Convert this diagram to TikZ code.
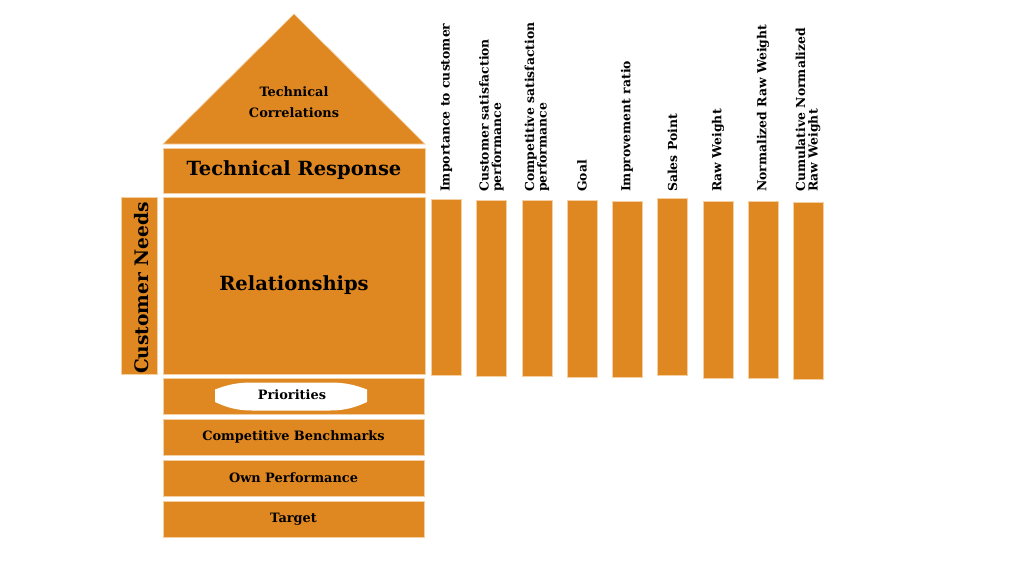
\documentclass[tikz,border=0pt]{standalone}
\usepackage{fontspec}
\setmainfont{DejaVu Serif}
\definecolor{qfd}{HTML}{DF8720}
\definecolor{qfdedge}{HTML}{F3CFA2}
\begin{document}
\begin{tikzpicture}[x=1pt,y=-1pt,
  blk/.style={fill=qfd,draw=qfdedge,line width=0.7pt,inner sep=0pt},
  big/.style={font=\bfseries\fontsize{19.5}{22}\selectfont},
  side/.style={font=\bfseries\fontsize{18.6}{22}\selectfont},
  mid/.style={font=\bfseries\fontsize{12.9}{21}\selectfont},
  small/.style={font=\bfseries\fontsize{12.4}{12.6}\selectfont},
  collbl/.style={small,rotate=90,anchor=west,align=left,inner sep=0pt},
  bar/.style={blk,minimum width=30,anchor=north}]
\useasboundingbox (0,0) rectangle (1024,576);
% roof
\path[blk] (294,14) -- (425,144) -- (163,144) -- cycle;
\node[mid,align=center] (corr) at (294,102) {Technical\\Correlations};
% main blocks
\node[blk,big,minimum width=262,minimum height=45] (resp) at (294,170.5) {Technical Response};
\node[blk,big,minimum width=262,minimum height=177] (rel) at (294,285.5) {Relationships};
\node[blk,minimum width=36,minimum height=177] (needs) at (139,285.5) {};
\node[side,rotate=90] (needslbl) at (141.5,288) {Customer Needs};
% bottom rows
\node[blk,minimum width=261,minimum height=36] (prio) at (293.5,396) {};
\path[fill=white] (215,389.5) .. controls (228,384.5) and (238,382.5) .. (252,382.5) -- (330,382.5) .. controls (344,382.5) and (354,384.5) .. (367,389.5) -- (367,402) .. controls (354,408) and (344,410.5) .. (330,410.5) -- (252,410.5) .. controls (238,410.5) and (228,408) .. (215,402) -- cycle;
\node[mid] (priolbl) at (292,395) {Priorities};
\node[blk,mid,minimum width=261,minimum height=36] (bench) at (293.5,437) {Competitive Benchmarks};
\node[blk,mid,minimum width=261,minimum height=36] (own) at (293.5,478) {Own Performance};
\node[blk,mid,minimum width=261,minimum height=36] (target) at (293.5,519) {Target};
% columns
\node[bar,minimum height=176] (b1) at (446,199) {};
\node[bar,minimum height=176] (b2) at (491.5,199.5) {};
\node[bar,minimum height=176] (b3) at (537,200) {};
\node[bar,minimum height=177] (b4) at (582,200) {};
\node[bar,minimum height=176] (b5) at (627,201) {};
\node[bar,minimum height=177] (b6) at (672.5,198) {};
\node[bar,minimum height=177] (b7) at (718,201) {};
\node[bar,minimum height=177] (b8) at (763,201) {};
\node[bar,minimum height=177] (b9) at (808,202) {};
\node[collbl] (c1) at (446.5,192) {Importance to customer};
\node[collbl] (c2) at (491.5,192) {Customer satisfaction\\performance};
\node[collbl] (c3) at (537,192) {Competitive satisfaction\\performance};
\node[collbl] (c4) at (582,192) {Goal};
\node[collbl] (c5) at (627,192) {Improvement ratio};
\node[collbl] (c6) at (672.5,192) {Sales Point};
\node[collbl] (c7) at (718,192) {Raw Weight};
\node[collbl] (c8) at (763,192) {Normalized Raw Weight};
\node[collbl] (c9) at (808,192) {Cumulative Normalized\\Raw Weight};
\end{tikzpicture}
\end{document}
